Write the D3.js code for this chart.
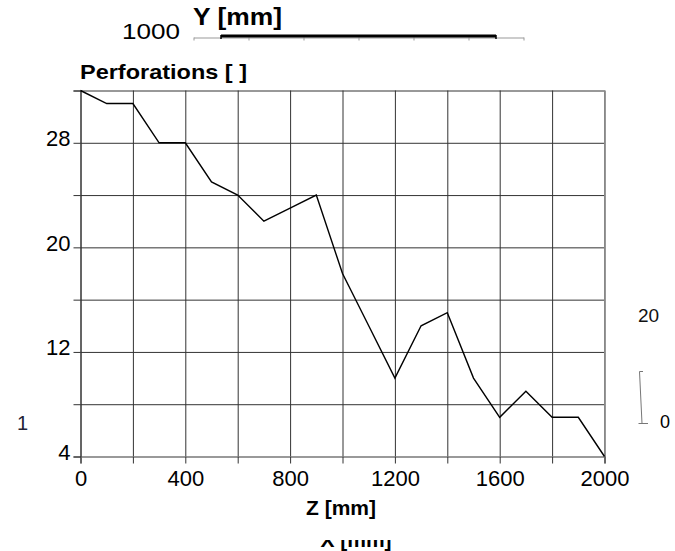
<!DOCTYPE html>
<html>
<head>
<meta charset="utf-8">
<script src="https://cdn.jsdelivr.net/npm/d3@7"></script>
<style>
  body { margin: 0; background: #fff; }
  svg { display: block; font-family: "Liberation Sans", Arial, sans-serif; }
</style>
</head>
<body>
<script>
  // data
  const zValues = [0, 100, 200, 300, 400, 500, 600, 700, 800, 900, 1000,
    1100, 1200, 1300, 1400, 1500, 1600, 1700, 1800, 1900, 2000];
  const perforations = [32, 31, 31, 28, 28, 25, 24, 22, 23, 24, 18,
    14, 10, 14, 15, 10, 7, 9, 7, 7, 4];
  const xTicks = [0, 200, 400, 600, 800, 1000, 1200, 1400, 1600, 1800, 2000];
  const yGrid = [4, 8, 12, 16, 20, 24, 28, 32];
  const yLabels = [4, 12, 20, 28];
  const topTicks = [0, 200, 400, 600, 800, 1000, 1200];
  const topBar = [100, 1100];

  const w = 675;
  const h = 551;

  const svg = d3.select("body").append("svg")
    .attr("width", w)
    .attr("height", h);

  // scales
  const xScale = d3.scaleLinear().domain([0, 2000]).range([80.5, 604.5]);
  const yScale = d3.scaleLinear().domain([4, 32]).range([456.5, 90.5]);
  const topScale = d3.scaleLinear().domain([0, 1200]).range([193.5, 523.5]);

  // vertical grid
  svg.append("g")
    .attr("transform", "translate(0," + yScale(4) + ")")
    .call(d3.axisBottom(xScale).tickValues(xTicks)
      .tickSize(-(yScale(4) - yScale(32))).tickFormat(""))
    .call(g => g.select(".domain").remove())
    .call(g => g.selectAll("line").attr("stroke", "#333"));

  // horizontal grid
  svg.append("g")
    .attr("transform", "translate(" + xScale(0) + ",0)")
    .call(d3.axisLeft(yScale).tickValues(yGrid)
      .tickSize(-(xScale(2000) - xScale(0))).tickFormat(""))
    .call(g => g.select(".domain").remove())
    .call(g => g.selectAll("line").attr("stroke", "#333"));

  // x axis
  svg.append("g")
    .attr("transform", "translate(0," + yScale(4) + ")")
    .call(d3.axisBottom(xScale).tickValues(xTicks).tickSize(7)
      .tickFormat(d => (d % 400 === 0 ? d : "")))
    .call(g => g.select(".domain").attr("stroke", "#999").attr("stroke-width", 2))
    .call(g => g.selectAll("line").attr("stroke", "#333"))
    .call(g => g.selectAll("text")
      .attr("y", 29).attr("dy", 0)
      .attr("font-size", 22).attr("fill", "#000")
      .attr("font-family", "Liberation Sans, Arial, sans-serif"));

  // y axis
  svg.append("g")
    .attr("transform", "translate(" + xScale(0) + ",0)")
    .call(d3.axisLeft(yScale).tickValues(yGrid).tickSize(7)
      .tickFormat(d => (yLabels.includes(d) ? d : "")))
    .call(g => g.select(".domain").attr("stroke", "#333"))
    .call(g => g.selectAll("line").attr("stroke", "#333"))
    .call(g => g.selectAll("text")
      .attr("x", -10).attr("dy", 0).attr("y", 3)
      .attr("font-size", 22).attr("fill", "#000")
      .attr("font-family", "Liberation Sans, Arial, sans-serif"));

  // right border
  svg.append("line")
    .attr("x1", xScale(2000)).attr("x2", xScale(2000))
    .attr("y1", yScale(32)).attr("y2", yScale(4))
    .attr("stroke", "#888");

  // line
  const line = d3.line()
    .x((d, i) => xScale(zValues[i]))
    .y(d => yScale(d));

  svg.append("path")
    .datum(perforations)
    .attr("d", line)
    .attr("fill", "none")
    .attr("stroke", "#000")
    .attr("stroke-width", 1.4);

  // titles
  svg.append("text")
    .attr("x", 80).attr("y", 79)
    .attr("font-size", 21).attr("font-weight", "bold")
    .attr("textLength", 167).attr("lengthAdjust", "spacingAndGlyphs")
    .text("Perforations [ ]");

  svg.append("text")
    .attr("x", 341).attr("y", 515)
    .attr("text-anchor", "middle")
    .attr("font-size", 21).attr("font-weight", "bold")
    .text("Z [mm]");

  // clipped label below
  svg.append("text")
    .attr("x", 356).attr("y", 547)
    .attr("text-anchor", "middle")
    .attr("font-size", 21).attr("font-weight", "bold")
    .text("X [mm]");
  svg.append("rect")
    .attr("x", 290).attr("y", 522).attr("width", 140).attr("height", 18)
    .attr("fill", "#fff");

  // top strip
  svg.append("text")
    .attr("x", 122).attr("y", 39)
    .attr("font-size", 22)
    .attr("textLength", 58).attr("lengthAdjust", "spacingAndGlyphs")
    .text("1000");

  svg.append("text")
    .attr("x", 193).attr("y", 25)
    .attr("font-size", 23).attr("font-weight", "bold")
    .attr("textLength", 89).attr("lengthAdjust", "spacingAndGlyphs")
    .text("Y [mm]");

  svg.append("g")
    .attr("transform", "translate(0,37.5)")
    .call(d3.axisBottom(topScale).tickValues(topTicks).tickSize(3).tickSizeOuter(0).tickFormat(""))
    .call(g => g.select(".domain").attr("stroke", "#999"))
    .call(g => g.selectAll("line").attr("stroke", "#999"));

  svg.append("line")
    .attr("x1", topScale(topBar[0])).attr("x2", topScale(topBar[1]))
    .attr("y1", 36).attr("y2", 36)
    .attr("stroke", "#000").attr("stroke-width", 3);
  topBar.forEach(v => {
    svg.append("line")
      .attr("x1", topScale(v)).attr("x2", topScale(v))
      .attr("y1", 35).attr("y2", 39)
      .attr("stroke", "#000").attr("stroke-width", 1.5);
  });

  // stray labels
  svg.append("text")
    .attr("x", 17).attr("y", 430)
    .attr("font-size", 20).attr("fill", "#223")
    .text("1");

  svg.append("text")
    .attr("x", 638).attr("y", 322)
    .attr("font-size", 19).attr("fill", "#111")
    .text("20");

  svg.append("text")
    .attr("x", 660).attr("y", 428)
    .attr("font-size", 18).attr("fill", "#000")
    .text("0");

  // small bracket on right
  svg.append("path")
    .attr("d", "M643,371.5 H639.5 L642,423.5 M638.5,423.5 H648")
    .attr("fill", "none")
    .attr("stroke", "#777")
    .attr("stroke-width", 1);
</script>
</body>
</html>
